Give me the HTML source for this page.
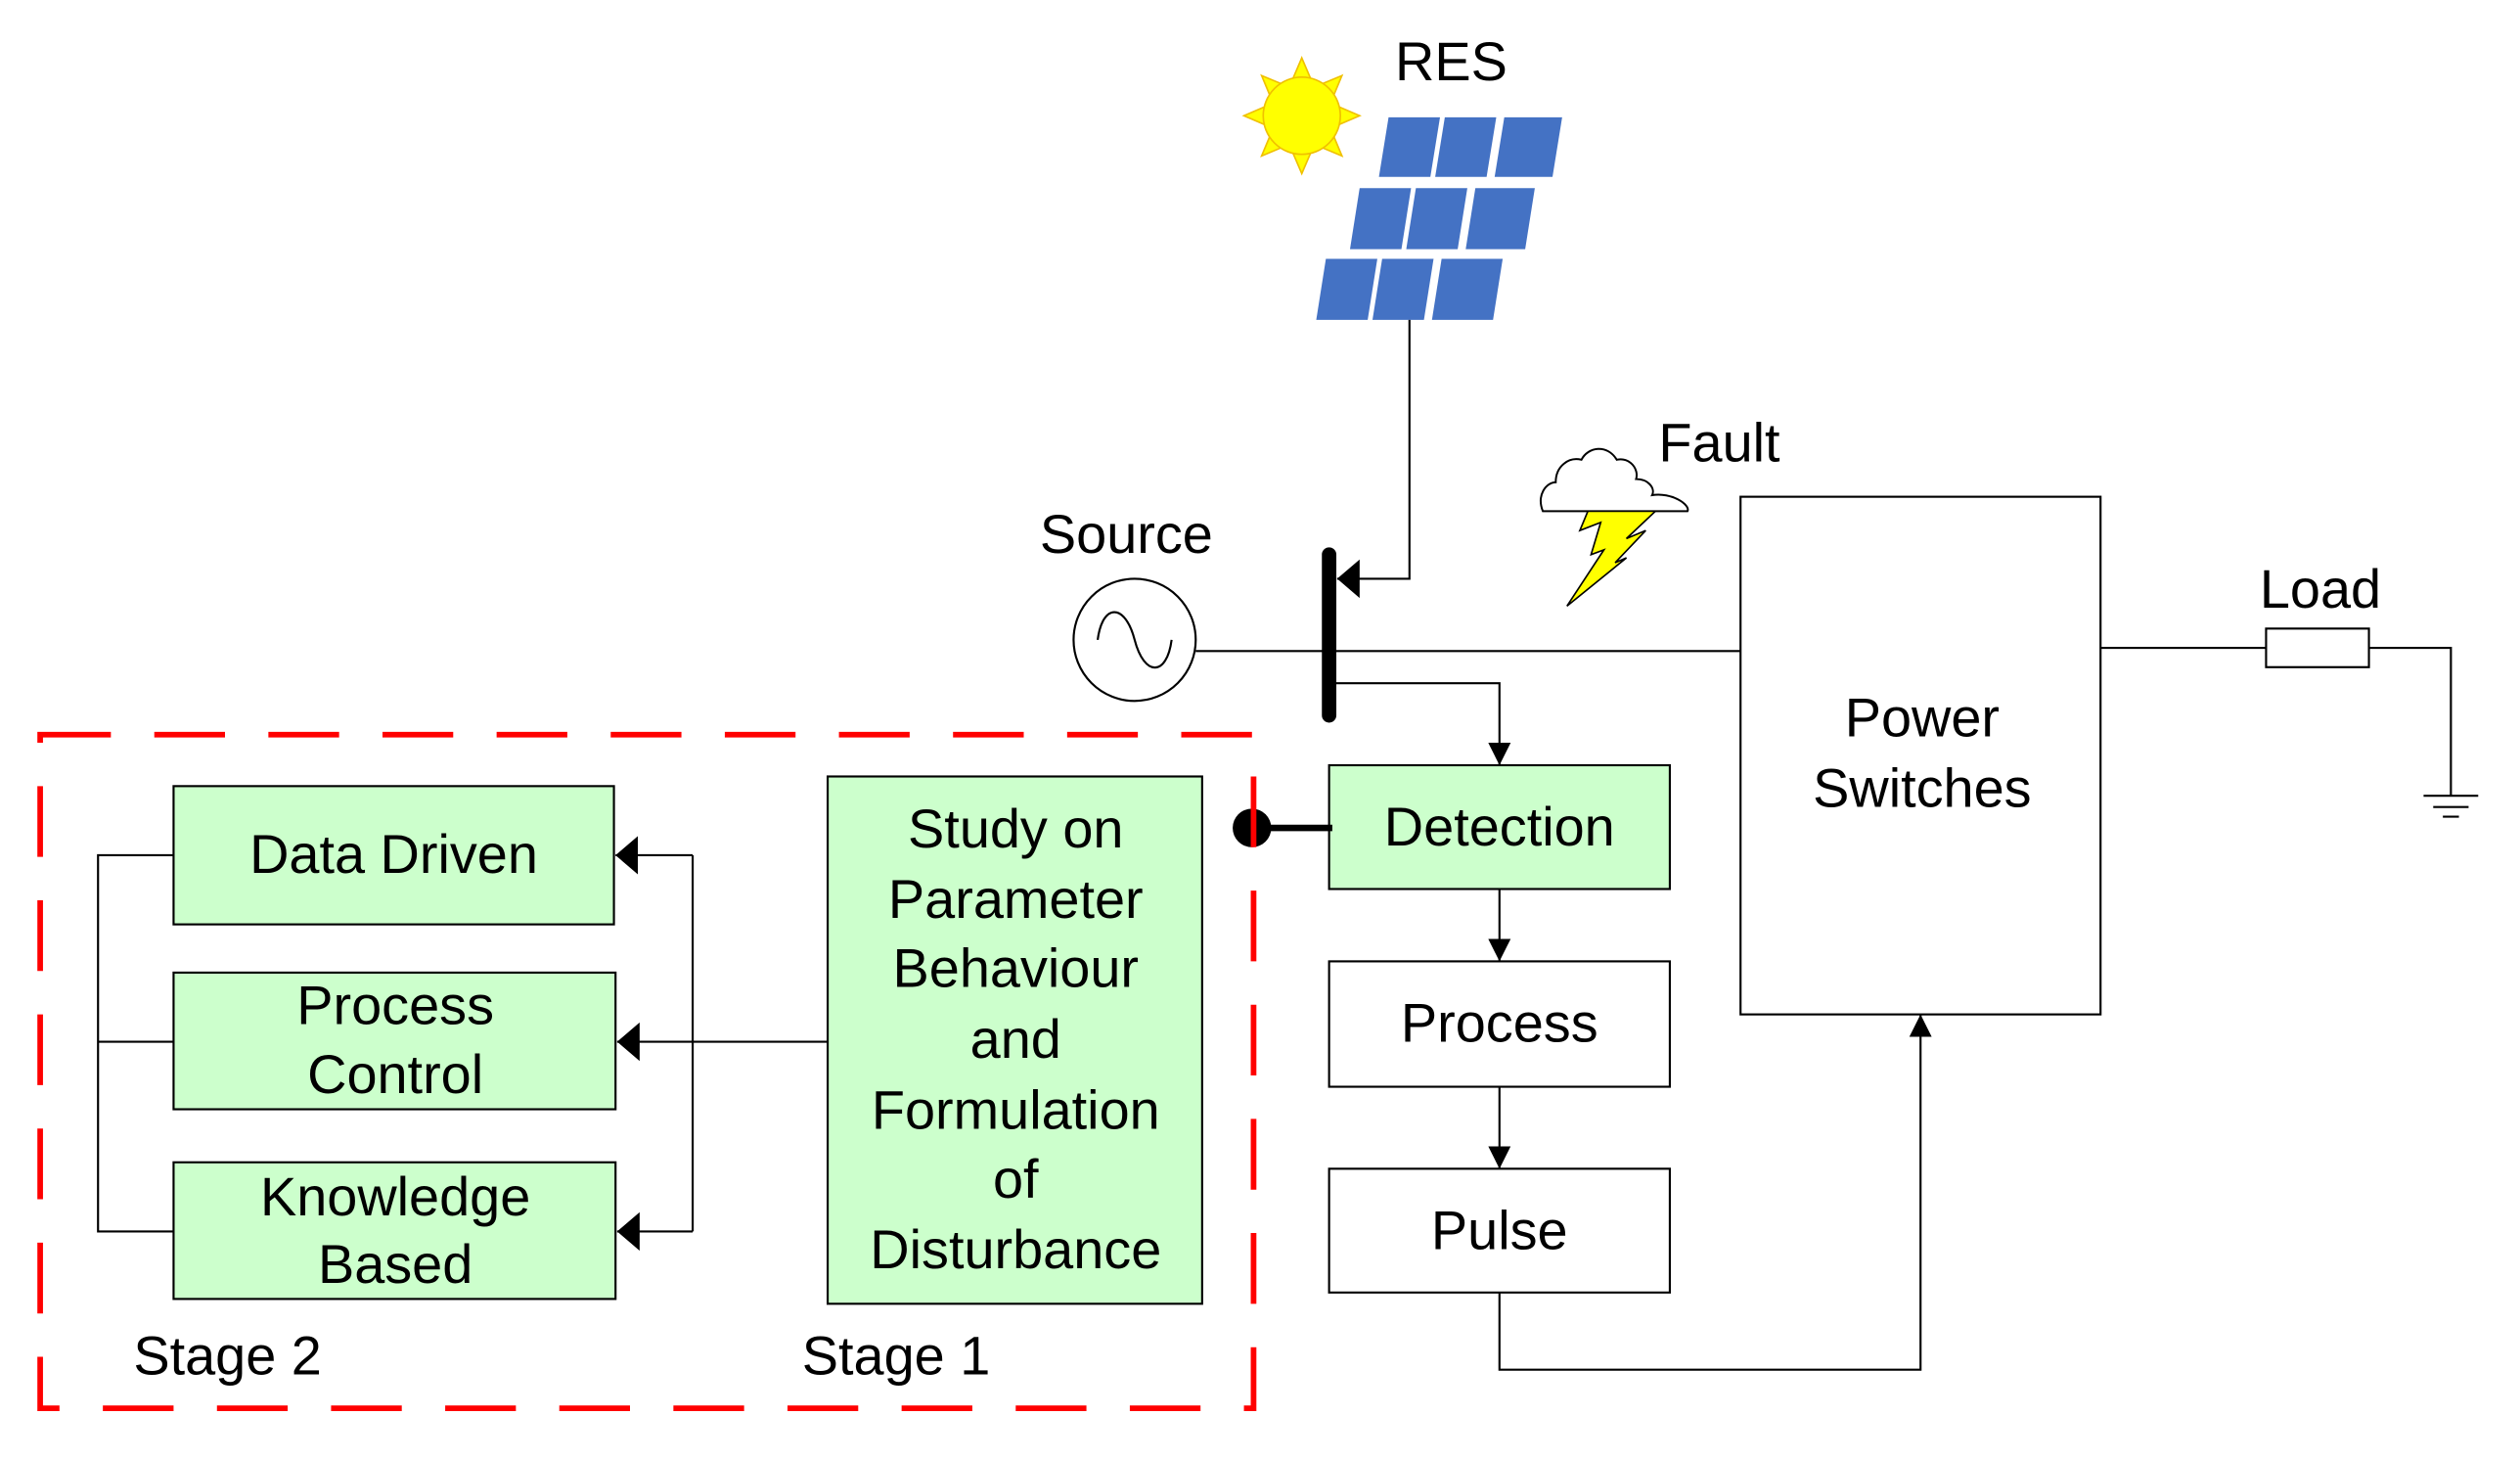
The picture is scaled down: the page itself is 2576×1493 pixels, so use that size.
<!DOCTYPE html>
<html><head><style>html,body{margin:0;padding:0;background:#fff}svg{display:block}</style></head>
<body>
<svg width="2576" height="1493" viewBox="0 0 1568 908.8" preserveAspectRatio="none" xmlns="http://www.w3.org/2000/svg" font-family="Liberation Sans, Arial, sans-serif">
<defs>
<marker id="b" viewBox="0 0 10 10" refX="10" refY="5" markerWidth="14" markerHeight="14" markerUnits="userSpaceOnUse" orient="auto"><path d="M0,0 L10,5 L0,10 z" fill="#000"/></marker>
<marker id="c" viewBox="0 0 10 10" refX="10" refY="5" markerWidth="14" markerHeight="24" markerUnits="userSpaceOnUse" orient="auto" preserveAspectRatio="none"><path d="M0,0 L10,5 L0,10 z" fill="#000"/></marker>
</defs>
<rect width="1568" height="908.8" fill="#fff"/>
<g fill="#ffff00" stroke="#f0c000" stroke-width="1">
<polygon points="810,36 816,50 804,50"/><polygon points="810,108 816,94 804,94"/>
<polygon points="774,72 788,66 788,78"/><polygon points="846,72 832,66 832,78"/>
<polygon points="785,47 797,52 790,59"/><polygon points="835,47 823,52 830,59"/>
<polygon points="785,97 797,92 790,85"/><polygon points="835,97 823,92 830,85"/>
<circle cx="810" cy="72" r="24"/>
</g>
<text x="868" y="50" font-size="34">RES</text>
<g fill="#4472c4">
<polygon points="864,73 896,73 890,110 858,110"/><polygon points="899,73 931,73 925,110 893,110"/><polygon points="936,73 972,73 966,110 930,110"/>
<polygon points="846,117 878,117 872,155 840,155"/><polygon points="881,117 913,117 907,155 875,155"/><polygon points="918,117 955,117 949,155 912,155"/>
<polygon points="825,161 857,161 851,199 819,199"/><polygon points="860,161 892,161 886,199 854,199"/><polygon points="897,161 935,161 929,199 891,199"/>
</g>
<g stroke="#000" stroke-width="1.3" fill="none">
<polyline points="877,199 877,360 832,360" marker-end="url(#c)"/>
<line x1="744" y1="405" x2="1083" y2="405"/>
<polyline points="831,425 933,425 933,476" marker-end="url(#b)"/>
<circle cx="706" cy="398" r="38"/>
<path d="M683,398 C686,375 700,375 706,398 C712,421 726,421 729,398"/>
<rect x="1083" y="309" width="224" height="322"/>
<polyline points="1307,403 1410,403"/>
<rect x="1410" y="391" width="64" height="24"/>
<polyline points="1474,403 1525,403 1525,495"/>
<line x1="1508" y1="495" x2="1542" y2="495"/><line x1="1514" y1="502" x2="1536" y2="502"/><line x1="1520" y1="508" x2="1530" y2="508"/>
<line x1="933" y1="553" x2="933" y2="598" marker-end="url(#b)"/>
<line x1="933" y1="676" x2="933" y2="727" marker-end="url(#b)"/>
<polyline points="933,804 933,852 1195,852 1195,631" marker-end="url(#b)"/>
<polyline points="108,532 61,532 61,766 108,766"/><line x1="61" y1="648" x2="108" y2="648"/>
<polyline points="431,532 431,766"/>
<line x1="431" y1="532" x2="383" y2="532" marker-end="url(#c)"/>
<line x1="515" y1="648" x2="384" y2="648" marker-end="url(#c)"/>
<line x1="431" y1="766" x2="384" y2="766" marker-end="url(#c)"/>
</g>
<line x1="827" y1="345" x2="827" y2="445" stroke="#000" stroke-width="9" stroke-linecap="round"/>
<text x="647" y="344" font-size="34">Source</text>
<path d="M960,318 C956,308 962,300 968,300 C968,290 976,284 984,286 C988,278 1000,276 1006,286 C1014,284 1020,292 1018,298 C1026,298 1030,304 1028,308 C1040,306 1052,314 1050,318 Z" fill="#fff" stroke="#000" stroke-width="1.2"/>
<polygon points="988,318 1030,318 1012,335 1024,330 1005,350 1012,347 975,377 998,342 990,345 996,325 983,330" fill="#ffff00" stroke="#000" stroke-width="1"/>
<text x="1032" y="287" font-size="34">Fault</text>
<text x="1406" y="378" font-size="34">Load</text>
<text x="1196" y="458" font-size="34" text-anchor="middle">Power</text>
<text x="1196" y="502" font-size="34" text-anchor="middle">Switches</text>
<rect x="827" y="476" width="212" height="77" fill="#ccffcc" stroke="#000" stroke-width="1.3"/>
<text x="933" y="526" font-size="34" text-anchor="middle">Detection</text>
<rect x="827" y="598" width="212" height="78" fill="#fff" stroke="#000" stroke-width="1.3"/>
<text x="933" y="648" font-size="34" text-anchor="middle">Process</text>
<rect x="827" y="727" width="212" height="77" fill="#fff" stroke="#000" stroke-width="1.3"/>
<text x="933" y="777" font-size="34" text-anchor="middle">Pulse</text>
<line x1="779" y1="515" x2="829" y2="515" stroke="#000" stroke-width="4"/>
<circle cx="779" cy="515" r="12" fill="#000"/>
<rect x="25" y="457" width="755" height="419" fill="none" stroke="#ff0000" stroke-width="3.5" stroke-dasharray="44,27"/>
<rect x="515" y="483" width="233" height="328" fill="#ccffcc" stroke="#000" stroke-width="1.3"/>
<g font-size="34" text-anchor="middle">
<text x="632" y="527">Study on</text><text x="632" y="571">Parameter</text><text x="632" y="614">Behaviour</text>
<text x="632" y="658">and</text><text x="632" y="702">Formulation</text><text x="632" y="745">of</text><text x="632" y="789">Disturbance</text>
</g>
<rect x="108" y="489" width="274" height="86" fill="#ccffcc" stroke="#000" stroke-width="1.3"/>
<text x="245" y="543" font-size="34" text-anchor="middle">Data Driven</text>
<rect x="108" y="605" width="275" height="85" fill="#ccffcc" stroke="#000" stroke-width="1.3"/>
<text x="246" y="637" font-size="34" text-anchor="middle">Process</text>
<text x="246" y="680" font-size="34" text-anchor="middle">Control</text>
<rect x="108" y="723" width="275" height="85" fill="#ccffcc" stroke="#000" stroke-width="1.3"/>
<text x="246" y="756" font-size="34" text-anchor="middle">Knowledge</text>
<text x="246" y="798" font-size="34" text-anchor="middle">Based</text>
<text x="83" y="855" font-size="34">Stage 2</text>
<text x="499" y="855" font-size="34">Stage 1</text>
</svg>
</body></html>
